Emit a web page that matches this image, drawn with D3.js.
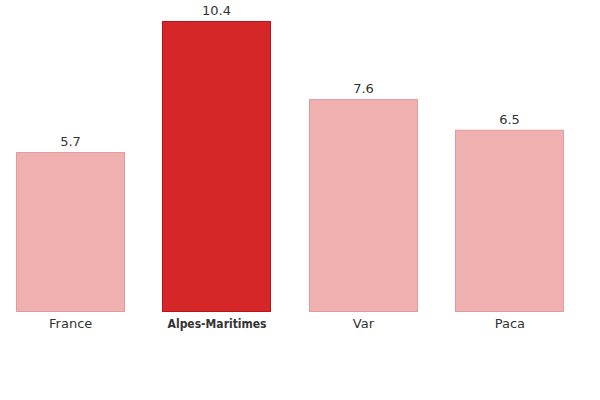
<!DOCTYPE html>
<html><head><meta charset="utf-8">
<script src="https://cdn.jsdelivr.net/npm/d3@7"></script>
<style>body{margin:0;background:#fff}svg{display:block}text{font-family:"DejaVu Sans",sans-serif}</style>
</head><body>
<svg id="c" width="600" height="400"></svg>
<script>
const categories = ["France", "Alpes-Maritimes", "Var", "Paca"];
const values = [5.7, 10.4, 7.6, 6.5];
const highlight = "Alpes-Maritimes";

const svg = d3.select("#c");
const x = d3.scaleBand().domain(categories).range([16, 563.5]).paddingInner(0.26).paddingOuter(0);
const y = d3.scaleLinear().domain([0, 10.4]).range([311, 21]);

const data = categories.map((c, i) => ({c, v: values[i]}));

svg.selectAll("rect.bar").data(data).enter().append("rect")
  .attr("class", "bar")
  .attr("x", d => Math.round(x(d.c)) + 0.5)
  .attr("y", d => y(d.v) + 0.5)
  .attr("width", 108)
  .attr("height", d => y(0) - y(d.v))
  .attr("fill", d => d.c === highlight ? "#d62728" : "#efb0b0")
  .attr("stroke", d => d.c === highlight ? "#b5151b" : "#e29a9c")
  .attr("stroke-width", 1);

svg.selectAll("text.val").data(data).enter().append("text")
  .attr("class", "val")
  .attr("x", d => Math.round(x(d.c)) + 54.5)
  .attr("y", d => y(d.v) - 6)
  .attr("text-anchor", "middle")
  .attr("font-size", 13)
  .attr("fill", "#333")
  .text(d => d3.format(".1f")(d.v));

const ax = svg.append("g").attr("transform", "translate(0.5,312)")
  .call(d3.axisBottom(x).tickSize(0).tickPadding(7));
ax.select(".domain").remove();
ax.selectAll("text")
  .attr("font-size", d => d === highlight ? 12 : 13)
  .attr("fill", "#333")
  .attr("font-family", d => d === highlight ? "'DejaVu Sans Condensed','DejaVu Sans',sans-serif" : "'DejaVu Sans',sans-serif")
  .attr("font-weight", d => d === highlight ? "bold" : "normal")
  .style("font-stretch", d => d === highlight ? "condensed" : "normal");
</script>
</body></html>
